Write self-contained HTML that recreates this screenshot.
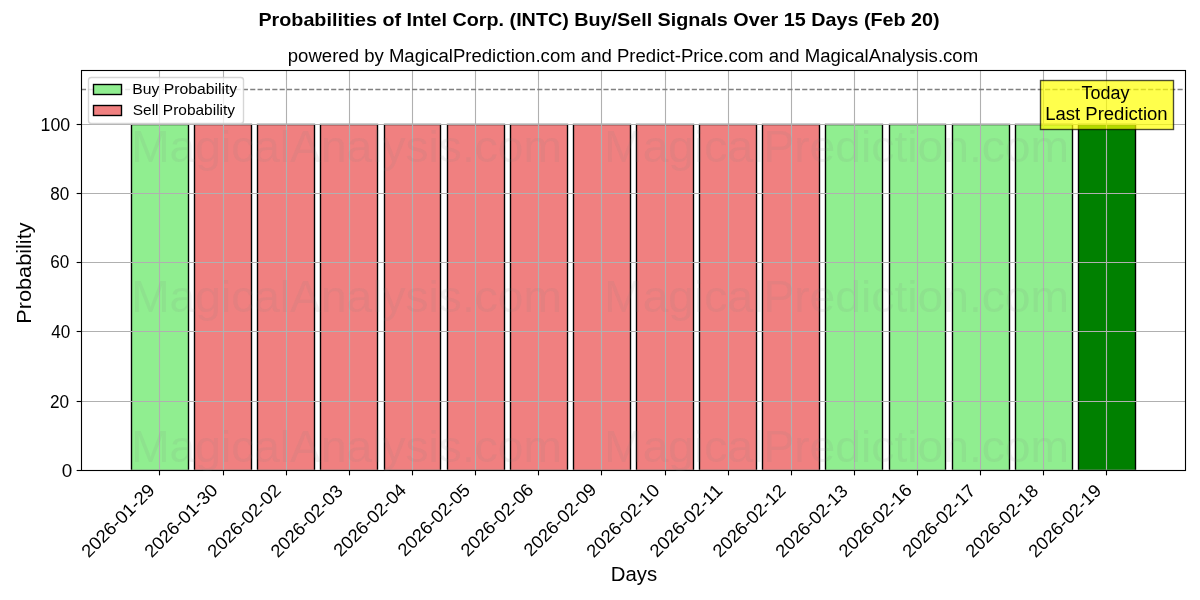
<!DOCTYPE html>
<html><head><meta charset="utf-8"><title>Probabilities of Intel Corp. (INTC) Buy/Sell Signals</title>
<style>html,body{margin:0;padding:0;background:#fff;width:1200px;height:600px;overflow:hidden}svg{display:block;will-change:transform}text{font-family:"Liberation Sans",sans-serif}</style></head>
<body><svg width="1200" height="600" viewBox="0 0 1200 600">
<rect x="0" y="0" width="1200" height="600" fill="#ffffff"/>
<clipPath id="ac"><rect x="80.9" y="70.33" width="1104.1" height="399.51"/></clipPath>
<g clip-path="url(#ac)" stroke="#000000" stroke-width="1.389" stroke-linejoin="miter">
<rect x="131.5" y="124.5" width="57" height="346" fill="#90ee90"/>
<rect x="194.5" y="124.5" width="57" height="346" fill="#f08080"/>
<rect x="257.5" y="124.5" width="57" height="346" fill="#f08080"/>
<rect x="320.5" y="124.5" width="57" height="346" fill="#f08080"/>
<rect x="384.5" y="124.5" width="56" height="346" fill="#f08080"/>
<rect x="447.5" y="124.5" width="57" height="346" fill="#f08080"/>
<rect x="510.5" y="124.5" width="57" height="346" fill="#f08080"/>
<rect x="573.5" y="124.5" width="57" height="346" fill="#f08080"/>
<rect x="636.5" y="124.5" width="57" height="346" fill="#f08080"/>
<rect x="699.5" y="124.5" width="57" height="346" fill="#f08080"/>
<rect x="762.5" y="124.5" width="57" height="346" fill="#f08080"/>
<rect x="825.5" y="124.5" width="57" height="346" fill="#90ee90"/>
<rect x="889.5" y="124.5" width="56" height="346" fill="#90ee90"/>
<rect x="952.5" y="124.5" width="57" height="346" fill="#90ee90"/>
<rect x="1015.5" y="124.5" width="57" height="346" fill="#90ee90"/>
<rect x="1078.5" y="124.5" width="57" height="346" fill="#008000"/>
</g>
<g clip-path="url(#ac)" stroke="#b0b0b0" stroke-width="1.111" stroke-linecap="square">
<line x1="159.5" y1="70.33" x2="159.5" y2="469.85"/>
<line x1="223.5" y1="70.33" x2="223.5" y2="469.85"/>
<line x1="286.5" y1="70.33" x2="286.5" y2="469.85"/>
<line x1="349.5" y1="70.33" x2="349.5" y2="469.85"/>
<line x1="412.5" y1="70.33" x2="412.5" y2="469.85"/>
<line x1="475.5" y1="70.33" x2="475.5" y2="469.85"/>
<line x1="538.5" y1="70.33" x2="538.5" y2="469.85"/>
<line x1="601.5" y1="70.33" x2="601.5" y2="469.85"/>
<line x1="665.5" y1="70.33" x2="665.5" y2="469.85"/>
<line x1="728.5" y1="70.33" x2="728.5" y2="469.85"/>
<line x1="791.5" y1="70.33" x2="791.5" y2="469.85"/>
<line x1="854.5" y1="70.33" x2="854.5" y2="469.85"/>
<line x1="917.5" y1="70.33" x2="917.5" y2="469.85"/>
<line x1="980.5" y1="70.33" x2="980.5" y2="469.85"/>
<line x1="1043.5" y1="70.33" x2="1043.5" y2="469.85"/>
<line x1="1106.5" y1="70.33" x2="1106.5" y2="469.85"/>
<line x1="80.9" y1="470.5" x2="1185" y2="470.5"/>
<line x1="80.9" y1="401.5" x2="1185" y2="401.5"/>
<line x1="80.9" y1="331.5" x2="1185" y2="331.5"/>
<line x1="80.9" y1="262.5" x2="1185" y2="262.5"/>
<line x1="80.9" y1="193.5" x2="1185" y2="193.5"/>
<line x1="80.9" y1="124.5" x2="1185" y2="124.5"/>
</g>
<g stroke="#000000" stroke-width="1.111">
<line x1="159.5" y1="470.5" x2="159.5" y2="475.36"/>
<line x1="223.5" y1="470.5" x2="223.5" y2="475.36"/>
<line x1="286.5" y1="470.5" x2="286.5" y2="475.36"/>
<line x1="349.5" y1="470.5" x2="349.5" y2="475.36"/>
<line x1="412.5" y1="470.5" x2="412.5" y2="475.36"/>
<line x1="475.5" y1="470.5" x2="475.5" y2="475.36"/>
<line x1="538.5" y1="470.5" x2="538.5" y2="475.36"/>
<line x1="601.5" y1="470.5" x2="601.5" y2="475.36"/>
<line x1="665.5" y1="470.5" x2="665.5" y2="475.36"/>
<line x1="728.5" y1="470.5" x2="728.5" y2="475.36"/>
<line x1="791.5" y1="470.5" x2="791.5" y2="475.36"/>
<line x1="854.5" y1="470.5" x2="854.5" y2="475.36"/>
<line x1="917.5" y1="470.5" x2="917.5" y2="475.36"/>
<line x1="980.5" y1="470.5" x2="980.5" y2="475.36"/>
<line x1="1043.5" y1="470.5" x2="1043.5" y2="475.36"/>
<line x1="1106.5" y1="470.5" x2="1106.5" y2="475.36"/>
<line x1="81.5" y1="470.5" x2="76.64" y2="470.5"/>
<line x1="81.5" y1="401.5" x2="76.64" y2="401.5"/>
<line x1="81.5" y1="331.5" x2="76.64" y2="331.5"/>
<line x1="81.5" y1="262.5" x2="76.64" y2="262.5"/>
<line x1="81.5" y1="193.5" x2="76.64" y2="193.5"/>
<line x1="81.5" y1="124.5" x2="76.64" y2="124.5"/>
</g>
<line x1="80.9" y1="89.5" x2="1185" y2="89.5" stroke="#808080" stroke-width="1.389" stroke-dasharray="5.14 2.22" clip-path="url(#ac)"/>
<rect x="81.5" y="70.5" width="1104" height="400" fill="none" stroke="#000000" stroke-width="1.111" stroke-linecap="square"/>
<rect x="1040.5" y="80.5" width="133" height="49" fill="#ffff00" fill-opacity="0.7" stroke="#000000" stroke-opacity="0.7" stroke-width="1.389"/>
<rect x="88.5" y="77.5" width="155" height="46" rx="2.78" ry="2.78" fill="#ffffff" fill-opacity="0.8" stroke="#cccccc" stroke-opacity="0.8" stroke-width="1.389"/>
<rect x="93.5" y="84.5" width="28" height="10" fill="#90ee90" stroke="#000000" stroke-width="1.389"/>
<rect x="93.5" y="105.5" width="28" height="10" fill="#f08080" stroke="#000000" stroke-width="1.389"/>
<g font-family="Liberation Sans, sans-serif" fill="#000000">
<text x="88.68" y="558.6" font-size="18" textLength="94.84" lengthAdjust="spacingAndGlyphs" transform="rotate(-45 88.68 558.6)">2026-01-29</text>
<text x="151.7" y="558.49" font-size="18" textLength="94.84" lengthAdjust="spacingAndGlyphs" transform="rotate(-45 151.7 558.49)">2026-01-30</text>
<text x="214.89" y="558.56" font-size="18" textLength="94.84" lengthAdjust="spacingAndGlyphs" transform="rotate(-45 214.89 558.56)">2026-02-02</text>
<text x="277.91" y="558.45" font-size="18" textLength="93.42" lengthAdjust="spacingAndGlyphs" transform="rotate(-45 277.91 558.45)">2026-02-03</text>
<text x="340.89" y="557.62" font-size="18" textLength="94" lengthAdjust="spacingAndGlyphs" transform="rotate(-45 340.89 557.62)">2026-02-04</text>
<text x="405.13" y="557.24" font-size="18" textLength="93.3" lengthAdjust="spacingAndGlyphs" transform="rotate(-45 405.13 557.24)">2026-02-05</text>
<text x="467.9" y="557.38" font-size="18" textLength="94" lengthAdjust="spacingAndGlyphs" transform="rotate(-45 467.9 557.38)">2026-02-06</text>
<text x="531" y="557.35" font-size="18" textLength="94" lengthAdjust="spacingAndGlyphs" transform="rotate(-45 531 557.35)">2026-02-09</text>
<text x="593.71" y="558.61" font-size="18" textLength="94.84" lengthAdjust="spacingAndGlyphs" transform="rotate(-45 593.71 558.61)">2026-02-10</text>
<text x="656.9" y="558.35" font-size="18" textLength="94.25" lengthAdjust="spacingAndGlyphs" transform="rotate(-45 656.9 558.35)">2026-02-11</text>
<text x="720.05" y="558.37" font-size="18" textLength="94.25" lengthAdjust="spacingAndGlyphs" transform="rotate(-45 720.05 558.37)">2026-02-12</text>
<text x="782.82" y="558.52" font-size="18" textLength="93.55" lengthAdjust="spacingAndGlyphs" transform="rotate(-45 782.82 558.52)">2026-02-13</text>
<text x="845.98" y="558.37" font-size="18" textLength="94.84" lengthAdjust="spacingAndGlyphs" transform="rotate(-45 845.98 558.37)">2026-02-16</text>
<text x="909.82" y="558.58" font-size="18" textLength="94.13" lengthAdjust="spacingAndGlyphs" transform="rotate(-45 909.82 558.58)">2026-02-17</text>
<text x="972.85" y="558.49" font-size="18" textLength="94.13" lengthAdjust="spacingAndGlyphs" transform="rotate(-45 972.85 558.49)">2026-02-18</text>
<text x="1035.89" y="558.39" font-size="18" textLength="94.13" lengthAdjust="spacingAndGlyphs" transform="rotate(-45 1035.89 558.39)">2026-02-19</text>
<text x="610.76" y="581.03" font-size="20.1" textLength="46.38" lengthAdjust="spacingAndGlyphs">Days</text>
<text x="61.68" y="477.49" font-size="18" textLength="10.5" lengthAdjust="spacingAndGlyphs">0</text>
<text x="50.06" y="408.38" font-size="18" textLength="19.12" lengthAdjust="spacingAndGlyphs">20</text>
<text x="51.18" y="338.12" font-size="18" textLength="19" lengthAdjust="spacingAndGlyphs">40</text>
<text x="50.18" y="268.49" font-size="17.88" textLength="19" lengthAdjust="spacingAndGlyphs">60</text>
<text x="50.18" y="199.69" font-size="18" textLength="19" lengthAdjust="spacingAndGlyphs">80</text>
<text x="40.56" y="130.8" font-size="18" textLength="29.62" lengthAdjust="spacingAndGlyphs">100</text>
<text x="30.57" y="323.72" font-size="19.75" textLength="101.25" lengthAdjust="spacingAndGlyphs" transform="rotate(-90 30.57 323.72)">Probability</text>
<text x="1081.41" y="98.7" font-size="18" textLength="48" lengthAdjust="spacingAndGlyphs">Today</text>
<text x="1045.16" y="119.6" font-size="18" textLength="122.5" lengthAdjust="spacingAndGlyphs">Last Prediction</text>
<text x="287.76" y="61.71" font-size="18" textLength="690.38" lengthAdjust="spacingAndGlyphs">powered by MagicalPrediction.com and Predict-Price.com and MagicalAnalysis.com</text>
<text x="132.29" y="93.87" font-size="13.92" textLength="104.88" lengthAdjust="spacingAndGlyphs">Buy Probability</text>
<text x="132.79" y="114.8" font-size="13.99" textLength="102.25" lengthAdjust="spacingAndGlyphs">Sell Probability</text>
<text x="258.44" y="25.93" font-size="17.69" font-weight="bold" textLength="681.12" lengthAdjust="spacingAndGlyphs">Probabilities of Intel Corp. (INTC) Buy/Sell Signals Over 15 Days (Feb 20)</text>
</g>
<g font-family="Liberation Sans, sans-serif" fill="#808080" fill-opacity="0.1">
<text x="131.15" y="162.27" font-size="45" textLength="430.75" lengthAdjust="spacingAndGlyphs">MagicalAnalysis.com</text>
<text x="604.16" y="161.74" font-size="45" textLength="464.88" lengthAdjust="spacingAndGlyphs">MagicalPrediction.com</text>
<text x="131.15" y="312.27" font-size="45" textLength="430.75" lengthAdjust="spacingAndGlyphs">MagicalAnalysis.com</text>
<text x="604.16" y="311.74" font-size="45" textLength="464.88" lengthAdjust="spacingAndGlyphs">MagicalPrediction.com</text>
<text x="131.15" y="462.27" font-size="45" textLength="430.75" lengthAdjust="spacingAndGlyphs">MagicalAnalysis.com</text>
<text x="604.16" y="461.74" font-size="45" textLength="464.88" lengthAdjust="spacingAndGlyphs">MagicalPrediction.com</text>
</g>
</svg></body></html>
